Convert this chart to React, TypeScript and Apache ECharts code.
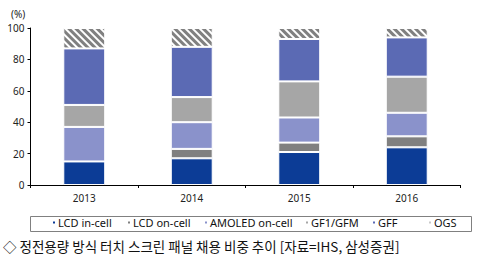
import React, { useEffect, useRef } from "react";
import * as echarts from "echarts";

const categories = ["2013", "2014", "2015", "2016"];
const seriesNames = ["LCD in-cell", "LCD on-cell", "AMOLED on-cell", "GF1/GFM", "GFF", "OGS"];
const lcdInCell = [15, 17, 21, 24];
const lcdOnCell = [0, 6, 6, 7];
const amoledOnCell = [22, 17, 16, 15];
const gf1Gfm = [14, 16, 23, 23];
const gff = [36, 32, 27, 25];
const ogs = [13, 12, 7, 6];
const yTicks = [0, 20, 40, 60, 80, 100];

const colors = ["#0c3c96", "#808080", "#8a92cb", "#a6a6a6", "#5b6ab4", "#ffffff"];
const legendLeft = [51, 126, 203, 304, 371, 427];

export default function App() {
  const ref = useRef<HTMLDivElement>(null);
  useEffect(() => {
    document.body.style.margin = "0";
    const chart = echarts.init(ref.current!, undefined, { renderer: "svg" });
    const values = [lcdInCell, lcdOnCell, amoledOnCell, gf1Gfm, gff, ogs];
    const series = values.map((v, i) => ({
      name: seriesNames[i],
      type: "bar",
      stack: "total",
      barWidth: "39%",
      data: v,
      itemStyle: {
        color: colors[i],
        borderColor: "#ffffff",
        borderWidth: 1,
        ...(i === 5
          ? {
              decal: {
                symbol: "rect",
                symbolSize: 1,
                dashArrayX: [[1, 0]],
                dashArrayY: [3, 2],
                rotation: Math.PI / 4,
                color: "#808080",
              },
            }
          : {}),
      },
    }));
    const legends = seriesNames.map((n, i) => ({
      data: [{ name: n, itemStyle: i === 5 ? { color: "#c8c8c8", decal: "none" } : undefined }],
      left: legendLeft[i],
      top: 217,
      itemWidth: 4,
      itemHeight: 4,
      itemGap: 0,
      padding: 0,
      icon: "rect",
      textStyle: { fontFamily: "Noto Sans", fontSize: 11, color: "#111", padding: [0, 0, 0, -3] },
      selectedMode: false,
    }));
    chart.setOption({
      animation: false,
      grid: { left: 30.5, right: 24.5, top: 28, bottom: 74 },
      legend: legends,
      xAxis: {
        type: "category",
        data: categories,
        axisLine: { lineStyle: { color: "#000", width: 1 } },
        axisTick: { show: true, length: 3, lineStyle: { color: "#000" } },
        axisLabel: { fontFamily: "Noto Sans", fontSize: 10, color: "#222", margin: 8 },
      },
      yAxis: {
        type: "value",
        min: 0,
        max: 100,
        interval: 20,
        splitLine: { show: false },
        axisLine: { show: true, lineStyle: { color: "#000", width: 1 } },
        axisTick: { show: true, length: 3, lineStyle: { color: "#000" } },
        axisLabel: {
          fontFamily: "Noto Sans",
          fontSize: 10,
          color: "#222",
          margin: 6,
          formatter: (v: number) => (yTicks.includes(v) ? String(v) : ""),
        },
      },
      graphic: [
        { type: "text", left: 11, top: 9, style: { text: "(%)", fontFamily: "Noto Sans", fontSize: 10, fill: "#222" } },
        {
          type: "rect",
          shape: { x: 30.5, y: 216.5, width: 441, height: 15 },
          style: { fill: "none", stroke: "#808080", lineWidth: 1 },
          z: -1,
        },
        {
          type: "text",
          left: 3,
          top: 239,
          style: {
            text: "◇ 정전용량 방식 터치 스크린 패널 채용 비중 추이 [자료=IHS, 삼성증권]",
            fontFamily: "Noto Sans CJK KR",
            fontSize: 13.5,
            fill: "#111",
          },
        },
      ],
      series,
    });
    return () => chart.dispose();
  }, []);
  return <div ref={ref} style={{ width: 485, height: 259 }} />;
}
